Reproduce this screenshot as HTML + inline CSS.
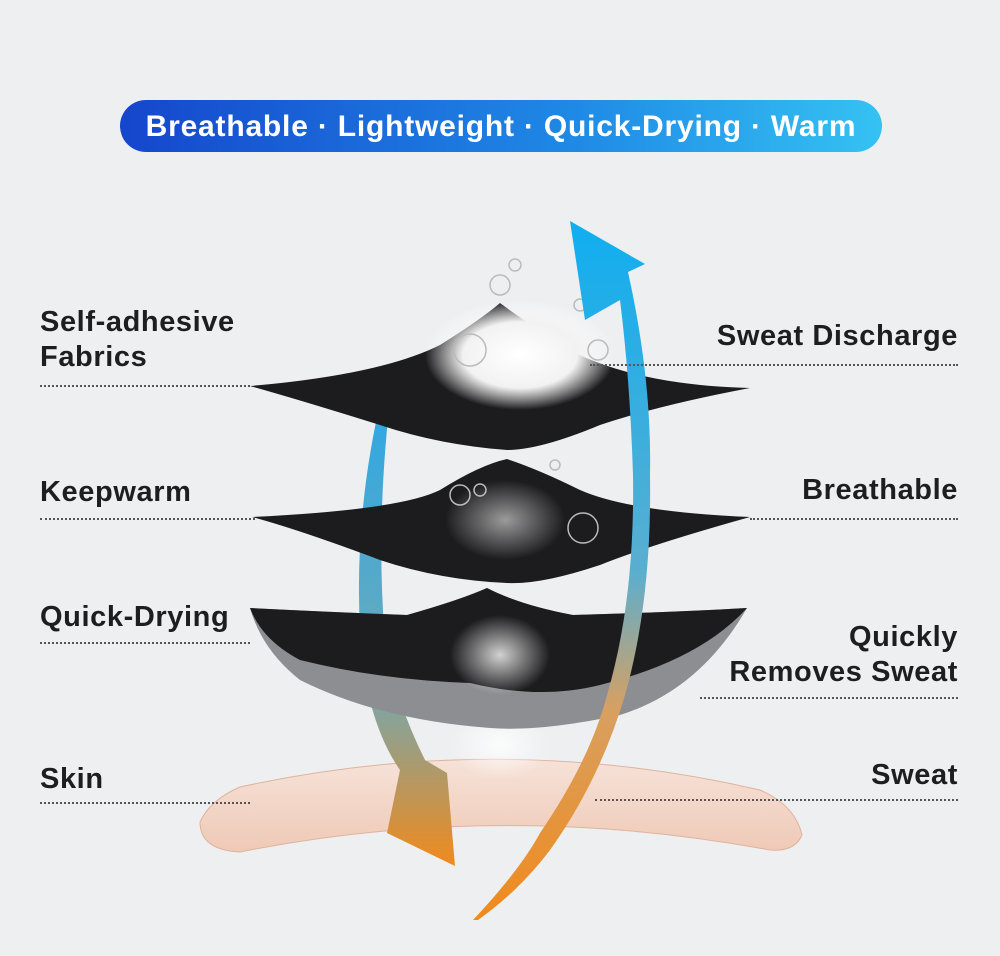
<!DOCTYPE html>
<html><head><meta charset="utf-8"><style>
html,body{margin:0;padding:0}
body{width:1000px;height:956px;background:#eeeff1;position:relative;overflow:hidden;font-family:"Liberation Sans",sans-serif}
.t{position:absolute;font-weight:bold;font-size:29px;letter-spacing:0.6px;color:#1e1e1e;line-height:35px}
.l{position:absolute;border-top:2px dotted #555;height:0}
</style></head><body>
<svg width="1000" height="956" style="position:absolute;left:0;top:0">
<defs>
<linearGradient id="ban" x1="0" x2="1"><stop offset="0" stop-color="#1546cc"/><stop offset="0.6" stop-color="#1f8ae6"/><stop offset="1" stop-color="#35c2f2"/></linearGradient>
<linearGradient id="ar1" x1="0" y1="1" x2="0" y2="0"><stop offset="0" stop-color="#f08a1c"/><stop offset="0.3" stop-color="#d8a060"/><stop offset="0.5" stop-color="#5aaed0"/><stop offset="1" stop-color="#10aef0"/></linearGradient>
<linearGradient id="ar2" x1="0" y1="0" x2="0" y2="1"><stop offset="0" stop-color="#2aa8e6"/><stop offset="0.6" stop-color="#6aaabc"/><stop offset="1" stop-color="#f08a1c"/></linearGradient>
<linearGradient id="sk" x1="0" y1="0" x2="0" y2="1"><stop offset="0" stop-color="#f6e2d8"/><stop offset="1" stop-color="#efc9b6"/></linearGradient>
<radialGradient id="cl"><stop offset="0" stop-color="#fff"/><stop offset="0.6" stop-color="#f2f2f2"/><stop offset="1" stop-color="#fff" stop-opacity="0"/></radialGradient>
<radialGradient id="gl"><stop offset="0" stop-color="#fff" stop-opacity="0.8"/><stop offset="1" stop-color="#fff" stop-opacity="0"/></radialGradient>
</defs>
<rect x="120" y="100" width="762" height="52" rx="26" fill="url(#ban)"/>
<text x="501" y="136" text-anchor="middle" fill="#fff" font-family="Liberation Sans,sans-serif" font-weight="bold" font-size="30" letter-spacing="0.8">Breathable · Lightweight · Quick-Drying · Warm</text>
<!-- skin -->
<path d="M200,822 Q210,800 240,787 Q500,730 760,790 Q795,805 802,835 Q795,852 770,850 Q500,800 240,852 Q200,850 200,822Z" fill="url(#sk)" stroke="#dfb39c"/>
<ellipse cx="500" cy="745" rx="50" ry="35" fill="url(#gl)"/>
<!-- left arrow -->
<path d="M385,383 Q350,520 362,660 Q372,730 400,770 L387,833 L455,866 L447,773 L425,760 Q395,700 385,640 Q375,520 392,383Z" fill="url(#ar2)"/>
<!-- layer 3 -->
<path d="M250,608 Q330,612 407,615 Q460,600 487,588 Q520,605 573,615 Q680,612 747,608 Q700,690 620,715 Q540,732 490,728 Q380,720 300,680 Q262,650 250,608Z" fill="#8d8e92"/>
<path d="M250,608 Q330,612 407,615 Q460,600 487,588 Q520,605 573,615 Q680,612 747,608 Q700,660 600,685 Q540,700 470,683 Q380,680 300,660 Q262,640 250,608Z" fill="#1c1c1e"/>
<ellipse cx="500" cy="655" rx="50" ry="40" fill="url(#gl)"/>
<!-- layer 2 -->
<path d="M252,517 Q400,510 440,490 Q480,465 507,459 Q540,470 580,490 Q630,512 750,517 Q650,545 600,565 Q540,585 507,583 Q440,580 380,560 Q300,530 252,517Z" fill="#1c1c1e"/>
<ellipse cx="505" cy="520" rx="60" ry="40" fill="url(#gl)" opacity="0.7"/>
<!-- layer 1 -->
<path d="M250,386 Q380,375 440,345 Q480,320 500,303 Q530,325 560,345 Q630,385 750,388 Q660,405 600,425 Q540,450 507,450 Q440,445 380,425 Q300,400 250,386Z" fill="#1c1c1e"/>
<ellipse cx="520" cy="355" rx="95" ry="55" fill="url(#cl)"/>
<g fill="none" stroke="#bbb" stroke-width="1.5">
<circle cx="470" cy="350" r="16"/><circle cx="500" cy="285" r="10"/><circle cx="515" cy="265" r="6"/><circle cx="598" cy="350" r="10"/><circle cx="580" cy="305" r="6"/>
<circle cx="460" cy="495" r="10"/><circle cx="583" cy="528" r="15"/><circle cx="480" cy="490" r="6"/><circle cx="555" cy="465" r="5"/></g>
<!-- right arrow -->
<path d="M473,920 Q520,870 540,833 Q590,760 607,695 Q635,600 633,475 Q630,380 620,300 L585,320 L570,221 L645,264 L628,272 Q652,380 650,475 Q652,600 625,695 Q600,780 550,850 Q520,890 478,920Z" fill="url(#ar1)"/>
</svg>
<div class="t" style="left:40px;top:305px">Self-adhesive<br>Fabrics</div>
<div class="l" style="left:40px;top:385px;width:210px"></div>
<div class="t" style="left:40px;top:475px">Keepwarm</div>
<div class="l" style="left:40px;top:518px;width:215px"></div>
<div class="t" style="left:40px;top:600px">Quick-Drying</div>
<div class="l" style="left:40px;top:642px;width:210px"></div>
<div class="t" style="left:40px;top:762px">Skin</div>
<div class="l" style="left:40px;top:802px;width:210px"></div>
<div class="t" style="right:42px;top:319px;text-align:right">Sweat Discharge</div>
<div class="l" style="left:590px;top:364px;width:368px"></div>
<div class="t" style="right:42px;top:473px;text-align:right">Breathable</div>
<div class="l" style="left:750px;top:518px;width:208px"></div>
<div class="t" style="right:42px;top:620px;text-align:right">Quickly<br>Removes Sweat</div>
<div class="l" style="left:700px;top:697px;width:258px"></div>
<div class="t" style="right:42px;top:758px;text-align:right">Sweat</div>
<div class="l" style="left:595px;top:799px;width:363px"></div>
</body></html>
